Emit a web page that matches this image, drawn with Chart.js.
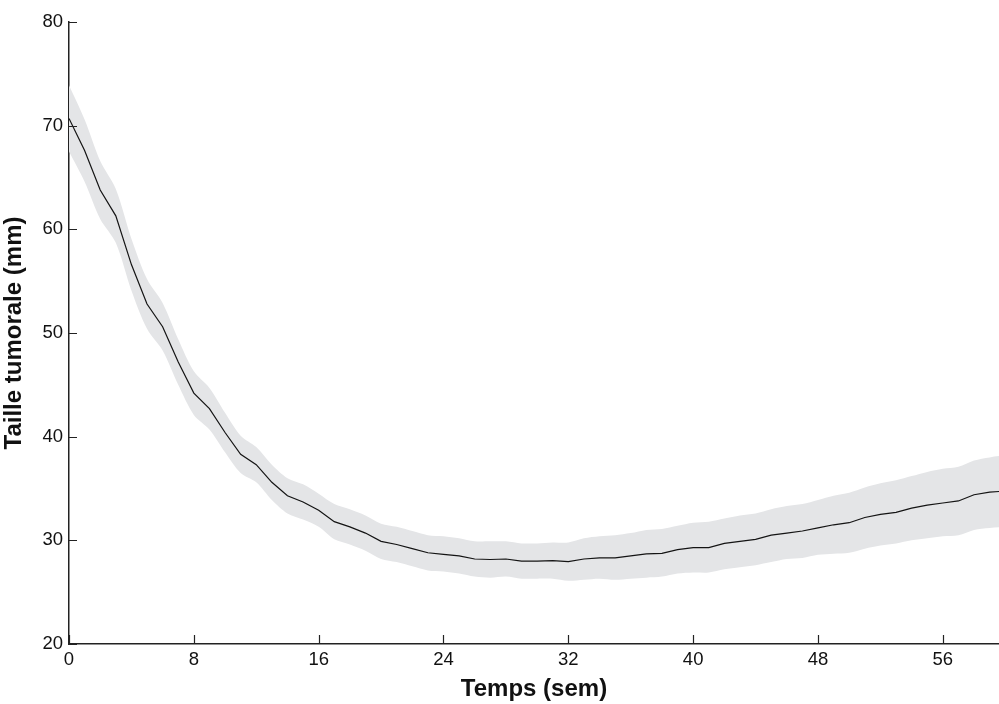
<!DOCTYPE html>
<html>
<head>
<meta charset="utf-8">
<script src="https://cdn.jsdelivr.net/npm/chart.js@4"></script>
<style>
  html, body { margin: 0; padding: 0; background: #fff; }
  #wrap { width: 999px; height: 704px; position: relative; }
</style>
</head>
<body>
<div id="wrap"><canvas id="tumor-chart"></canvas></div>
<script>
// semaines
const weeks = [
  0, 1, 2, 3, 4, 5, 6, 7, 8, 9, 10, 11, 12, 13, 14, 15, 16, 17, 18, 19,
  20, 21, 22, 23, 24, 25, 26, 27, 28, 29, 30, 31, 32, 33, 34, 35, 36, 37, 38, 39,
  40, 41, 42, 43, 44, 45, 46, 47, 48, 49, 50, 51, 52, 53, 54, 55, 56, 57, 58, 59, 60,
];

// taille tumorale moyenne (mm)
const tumorMean = [
  70.7, 67.6, 63.8, 61.3, 56.6, 52.8, 50.6, 47.2, 44.2, 42.7, 40.4, 38.3, 37.3, 35.6, 34.3, 33.7, 32.9, 31.8, 31.3, 30.7,
  29.9, 29.6, 29.2, 28.8, 28.65, 28.5, 28.2, 28.15, 28.2, 28.0, 28.0, 28.05, 27.95, 28.2, 28.3, 28.3, 28.5, 28.7, 28.75, 29.1,
  29.3, 29.3, 29.7, 29.9, 30.1, 30.5, 30.7, 30.9, 31.2, 31.5, 31.7, 32.2, 32.5, 32.7, 33.1, 33.4, 33.6, 33.8, 34.4, 34.65, 34.75,
];

// bornes de l'intervalle (zone grise)
const bandUpper = [
  73.9, 70.6, 66.6, 63.9, 59.1, 55.2, 52.9, 49.4, 46.3, 44.7, 42.3, 40.1, 39.0, 37.3, 36.0, 35.4, 34.5, 33.5, 33.0, 32.4,
  31.6, 31.3, 30.9, 30.5, 30.4, 30.2, 29.9, 29.9, 29.9, 29.7, 29.7, 29.8, 29.8, 30.2, 30.4, 30.5, 30.7, 31.0, 31.1, 31.4,
  31.7, 31.8, 32.1, 32.4, 32.6, 33.0, 33.3, 33.5, 33.9, 34.3, 34.6, 35.1, 35.5, 35.8, 36.2, 36.6, 36.9, 37.1, 37.7, 38.0, 38.2,
];
const bandLower = [
  67.5, 64.6, 61.0, 58.7, 54.1, 50.4, 48.3, 45.0, 42.1, 40.7, 38.5, 36.5, 35.6, 33.9, 32.6, 32.0, 31.3, 30.1, 29.6, 29.0,
  28.2, 27.9, 27.5, 27.1, 27.0, 26.8, 26.5, 26.4, 26.5, 26.3, 26.3, 26.3, 26.1, 26.2, 26.3, 26.2, 26.3, 26.4, 26.5, 26.8,
  26.9, 26.9, 27.2, 27.4, 27.6, 27.9, 28.2, 28.3, 28.6, 28.7, 28.8, 29.2, 29.5, 29.7, 30.0, 30.2, 30.4, 30.5, 31.0, 31.2, 31.3,
];

const xTicks = [0, 8, 16, 24, 32, 40, 48, 56];
const yTicks = [20, 30, 40, 50, 60, 70, 80];

const axisColor = '#222';
const textColor = '#111';
const tickFont = { family: "'Liberation Sans', Arial, sans-serif", size: 18.5 };
const titleFont = { family: "'Liberation Sans', Arial, sans-serif", size: 24, weight: 'bold' };

const toPoints = (ys) => weeks.map((w, i) => ({ x: w, y: ys[i] }));

// ticks vers l'intérieur, comme sous Matlab
const inwardTicks = {
  id: 'inwardTicks',
  afterDraw(chart) {
    const { ctx, chartArea, scales } = chart;
    ctx.save();
    ctx.strokeStyle = axisColor;
    ctx.lineWidth = 1.2;
    ctx.beginPath();
    scales.x.ticks.forEach((t) => {
      const px = Math.round(scales.x.getPixelForValue(t.value)) + 0.5;
      ctx.moveTo(px, chartArea.bottom);
      ctx.lineTo(px, chartArea.bottom - 9);
    });
    scales.y.ticks.forEach((t) => {
      const py = Math.round(scales.y.getPixelForValue(t.value)) + 0.5;
      ctx.moveTo(chartArea.left, py);
      ctx.lineTo(chartArea.left + 8, py);
    });
    ctx.stroke();
    ctx.restore();
  },
};

new Chart(document.getElementById('tumor-chart'), {
  type: 'line',
  data: {
    datasets: [
      {
        label: 'Moyenne',
        data: toPoints(tumorMean),
        borderColor: '#141414',
        borderWidth: 1.2,
        pointRadius: 0,
        fill: false,
        tension: 0,
      },
      {
        label: 'Borne sup',
        data: toPoints(bandUpper),
        borderWidth: 0,
        borderColor: 'rgba(0,0,0,0)',
        backgroundColor: '#e4e5e7',
        pointRadius: 0,
        fill: '+1',
        tension: 0.3,
      },
      {
        label: 'Borne inf',
        data: toPoints(bandLower),
        borderWidth: 0,
        borderColor: 'rgba(0,0,0,0)',
        pointRadius: 0,
        fill: false,
        tension: 0.3,
      },
    ],
  },
  options: {
    responsive: true,
    maintainAspectRatio: false,
    animation: false,
    layout: { padding: { top: 22, right: 0, left: 0, bottom: 0 } },
    plugins: {
      legend: { display: false },
      tooltip: { enabled: false },
    },
    scales: {
      x: {
        type: 'linear',
        min: 0,
        max: 59.6,
        afterBuildTicks: (axis) => { axis.ticks = xTicks.map((v) => ({ value: v })); },
        afterFit: (axis) => { axis.height = 60; },
        grid: { display: true, drawOnChartArea: false, drawTicks: false },
        border: { display: true, color: axisColor, width: 1.5 },
        ticks: { color: textColor, font: tickFont, padding: 5, maxRotation: 0 },
        title: { display: true, text: 'Temps (sem)', color: textColor, font: titleFont, padding: { top: 2, bottom: 0 } },
      },
      y: {
        min: 20,
        max: 80,
        afterBuildTicks: (axis) => { axis.ticks = yTicks.map((v) => ({ value: v })); },
        afterFit: (axis) => { axis.width = 69; },
        grid: { display: true, drawOnChartArea: false, drawTicks: false },
        border: { display: true, color: axisColor, width: 1.5 },
        ticks: { color: textColor, font: tickFont, padding: 6 },
        title: { display: true, text: 'Taille tumorale (mm)', color: textColor, font: titleFont, padding: { top: 0, bottom: 4 } },
      },
    },
  },
  plugins: [inwardTicks],
});
</script>
</body>
</html>
